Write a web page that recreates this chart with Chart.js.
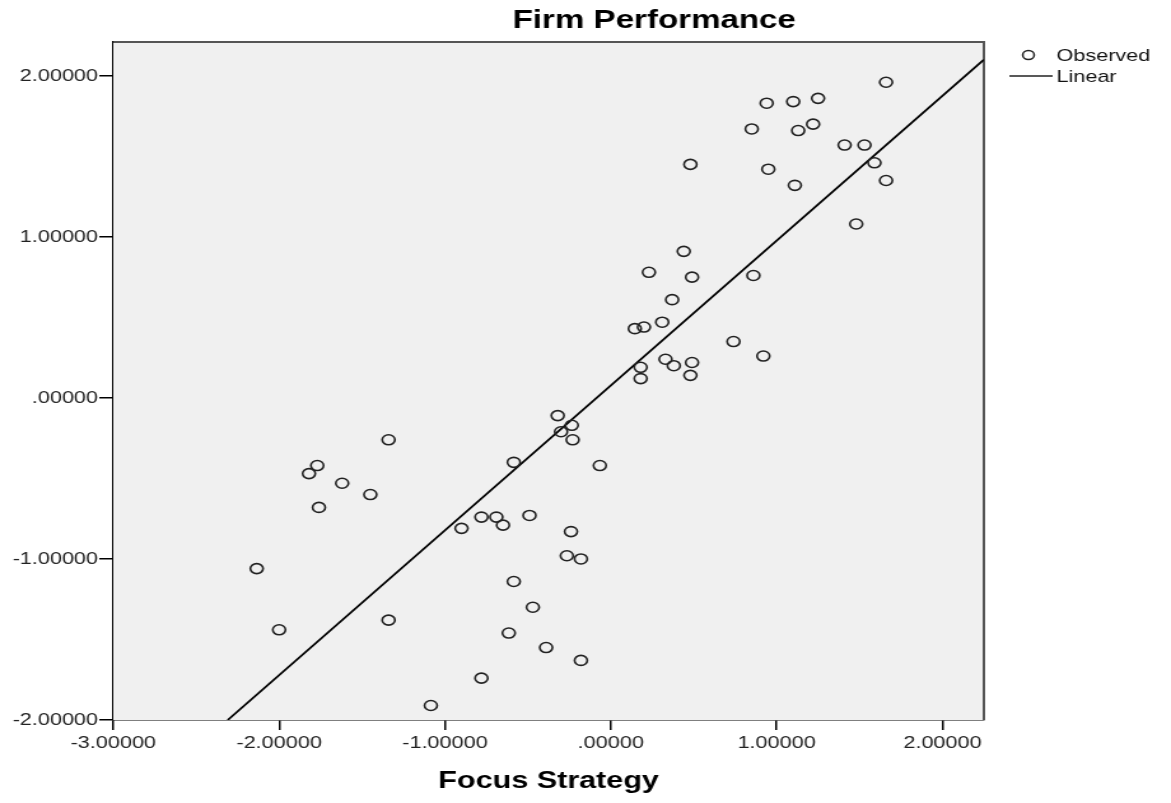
<!DOCTYPE html>
<html>
<head>
<meta charset="utf-8">
<title>Firm Performance</title>
<script src="https://cdn.jsdelivr.net/npm/chart.js@4.4.1/dist/chart.umd.min.js"></script>
<style>
body{margin:0;background:#fff}
</style>
</head>
<body>
<!-- the source picture is stretched sideways, so the canvas is drawn narrower and scaled up by css -->
<canvas id="c" width="920" height="803" style="display:block;width:1171px;height:803px"></canvas>
<script>
const focusStrategy=[1.66,0.94,1.10,1.25,0.85,1.13,1.22,1.41,1.53,1.59,1.66,0.48,0.95,1.11,1.48,
  0.44,0.23,0.49,0.86,0.37,0.145,0.20,0.31,0.74,0.33,0.38,0.49,0.18,0.18,0.48,0.92,
  -0.32,-0.30,-0.235,-0.23,-0.585,-0.066,-1.34,-1.77,-1.82,-1.62,-1.45,-1.76,
  -0.90,-0.78,-0.69,-0.65,-0.49,-0.24,-0.265,-0.18,-0.585,-0.47,-0.615,-0.39,-0.18,-0.78,-1.085,
  -2.135,-2.00,-1.34];
const firmPerformance=[1.96,1.83,1.84,1.86,1.67,1.66,1.70,1.57,1.57,1.46,1.35,1.45,1.42,1.32,1.08,
  0.91,0.78,0.75,0.76,0.61,0.43,0.44,0.47,0.35,0.24,0.20,0.22,0.19,0.12,0.14,0.26,
  -0.11,-0.21,-0.17,-0.26,-0.40,-0.42,-0.26,-0.42,-0.47,-0.53,-0.60,-0.68,
  -0.81,-0.74,-0.74,-0.79,-0.73,-0.83,-0.98,-1.00,-1.14,-1.30,-1.46,-1.55,-1.63,-1.74,-1.91,
  -1.06,-1.44,-1.38];
const linearX=[-2.31,2.25];
const linearY=[-2.00,2.10];
const xTicks=[-3,-2,-1,0,1,2];
const xTickLabels=['-3.00000','-2.00000','-1.00000','.00000','1.00000','2.00000'];
const yTicks=[-2,-1,0,1,2];
const yTickLabels=['-2.00000','-1.00000','.00000','1.00000','2.00000'];
const legendLabels=['Observed','Linear'];

const FONT='"Liberation Sans", Arial, sans-serif';

const observed=focusStrategy.map((x,i)=>({x:x,y:firmPerformance[i]}));
const linear=linearX.map((x,i)=>({x:x,y:linearY[i]}));

// plot background + grey frame, title and legend
const framePlugin={
  id:'frame',
  beforeDatasetsDraw(chart){
    const a=chart.chartArea,ctx=chart.ctx;
    ctx.save();
    ctx.fillStyle='#f0f0f0';
    ctx.fillRect(a.left,a.top,a.right-a.left,a.bottom-a.top);
    ctx.strokeStyle='#555';ctx.lineWidth=2;
    ctx.beginPath();ctx.moveTo(a.left,a.top);ctx.lineTo(a.right,a.top);ctx.lineTo(a.right,a.bottom);ctx.stroke();
    ctx.restore();
  },
  afterDraw(chart){
    const ctx=chart.ctx;
    ctx.save();
    ctx.fillStyle='#000';ctx.font='bold 26px '+FONT;
    ctx.textAlign='center';ctx.textBaseline='middle';
    ctx.fillText('Firm Performance',514,21);
    ctx.strokeStyle='#222';ctx.lineWidth=1.5;
    ctx.beginPath();ctx.arc(808,55,4.5,0,Math.PI*2);ctx.stroke();
    ctx.lineWidth=1.6;
    ctx.beginPath();ctx.moveTo(793,76);ctx.lineTo(827,76);ctx.stroke();
    ctx.fillStyle='#111';ctx.font='17px '+FONT;ctx.textAlign='left';
    ctx.fillText(legendLabels[0],830,56);
    ctx.fillText(legendLabels[1],830,77);
    ctx.restore();
  }
};

new Chart(document.getElementById('c'),{
  type:'scatter',
  data:{datasets:[
    {label:legendLabels[0],data:observed,pointStyle:'circle',pointRadius:5,pointBorderWidth:1.6,
     pointBorderColor:'#222',pointBackgroundColor:'rgba(0,0,0,0)',showLine:false},
    {label:legendLabels[1],data:linear,showLine:true,borderColor:'#000',borderWidth:1.8,pointRadius:0,fill:false}
  ]},
  options:{
    responsive:false,animation:false,devicePixelRatio:1,
    layout:{padding:{top:42,right:147,bottom:0,left:0}},
    plugins:{legend:{display:false},tooltip:{enabled:false},title:{display:false}},
    scales:{
      x:{
        type:'linear',min:-3,max:2.25,
        afterBuildTicks:s=>{s.ticks=xTicks.map(v=>({value:v}))},
        afterFit:s=>{s.height=83},
        ticks:{color:'#222',font:{family:FONT,size:17},padding:3,maxRotation:0,
          callback:(v)=>xTickLabels[xTicks.indexOf(v)]},
        grid:{drawOnChartArea:false,drawTicks:true,tickLength:10,tickColor:'#000',lineWidth:1.5},
        border:{display:true,color:'#000',width:1.5},
        title:{display:true,text:'Focus Strategy',color:'#000',font:{family:FONT,size:24,weight:'bold'},padding:{top:0,bottom:7}}
      },
      y:{
        type:'linear',min:-2,max:2.21,
        afterBuildTicks:s=>{s.ticks=yTicks.map(v=>({value:v}))},
        afterFit:s=>{s.width=89},
        ticks:{color:'#222',font:{family:FONT,size:17},padding:1,
          callback:(v)=>yTickLabels[yTicks.indexOf(v)]},
        grid:{drawOnChartArea:false,drawTicks:true,tickLength:11,tickColor:'#000',lineWidth:1.5},
        border:{display:true,color:'#000',width:1.5}
      }
    }
  },
  plugins:[framePlugin]
});
</script>
</body>
</html>
